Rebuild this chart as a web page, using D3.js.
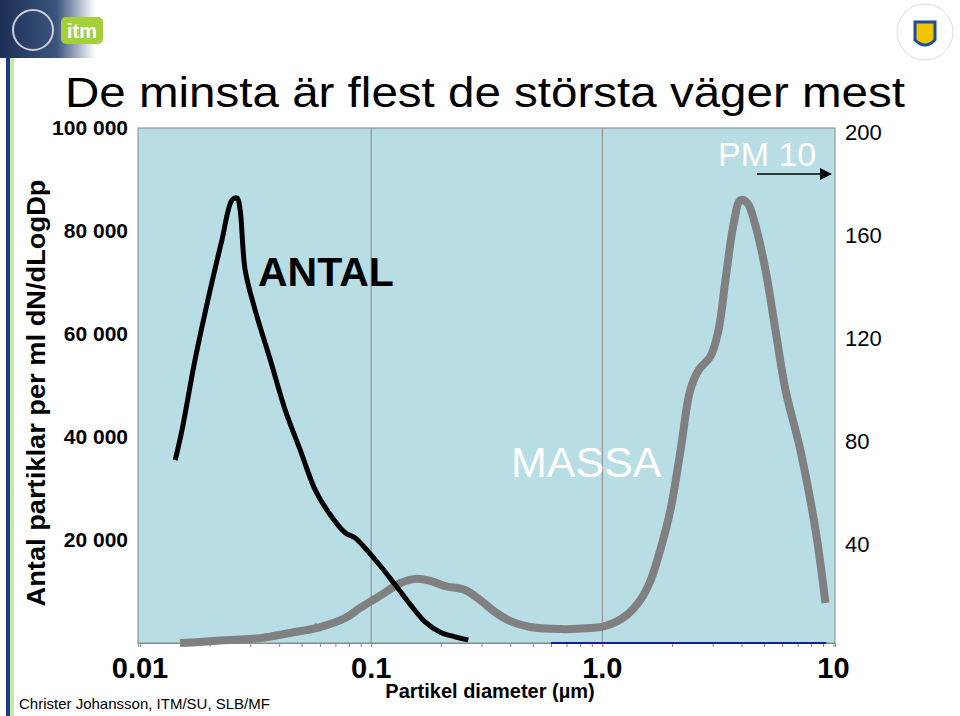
<!DOCTYPE html>
<html><head><meta charset="utf-8">
<script src="https://cdn.jsdelivr.net/npm/d3@7"></script>
<style>body{margin:0;background:#fff}text{font-family:"Liberation Sans",Arial,sans-serif}</style>
</head><body><svg id="c" width="960" height="716"></svg>
<script>
// antal (number) curve: diameter um, particles per ml
var antalD = [0.0142,0.0152,0.0173,0.0201,0.0226,0.0250,0.0263,0.0271,0.0285,0.0315,0.0366,0.0425,0.0493,0.0573,0.0665,0.0772,0.0853,0.0942,0.109,0.127,0.148,0.171,0.199,0.231,0.263];
var antalV = [35500,41400,55000,68500,78200,86000,86400,84100,72400,64600,55000,45200,37500,29700,24900,21400,20400,18400,15100,11300,7400,4100,2100,1200,600];
// massa curve: diameter um, mass (right axis)
var massaD = [0.0149,0.0182,0.0245,0.0331,0.0446,0.0601,0.0772,0.0896,0.109,0.134,0.155,0.180,0.209,0.255,0.296,0.344,0.400,0.488,0.658,0.887,1.03,1.26,1.46,1.62,1.78,1.97,2.18,2.40,2.61,2.94,3.18,3.41,3.69,3.96,4.24,4.59,5.08,5.61,6.20,7.19,8.36,9.23];
var massaV = [0,0.4,1.2,1.9,3.9,6.2,9.7,13.6,18.3,23.3,24.9,24.1,22.1,20.6,16.7,12.0,8.5,6.2,5.4,5.8,6.6,10.5,16.7,24.5,36.1,51.6,74.9,98.2,106,111.4,121.5,141,162.3,172,170.9,162.3,144.8,121.5,98.2,74.9,43.9,15.5];
var leftTicks = [20000,40000,60000,80000,100000];
var rightTicks = [40,80,120,160,200];
var xTicks = [0.01,0.1,1,10];
var xTickLabels = ["0.01","0.1","1.0","10"];

var svg = d3.select("#c");
var L=138,R=835,T=128,B=643;
var x = d3.scaleLog().domain([0.0098,10.15]).range([L,R]);
var yL = d3.scaleLinear().domain([0,100000]).range([B,T]);
var yR = d3.scaleLinear().domain([0,200]).range([B,T]);

// header decorations
var g0 = svg.append("defs").append("linearGradient").attr("id","hg");
g0.append("stop").attr("offset","0").attr("stop-color","#1d2f55");
g0.append("stop").attr("offset","0.6").attr("stop-color","#3c557e");
g0.append("stop").attr("offset","1").attr("stop-color","#fff");
svg.append("rect").attr("x",0).attr("y",0).attr("width",95).attr("height",58).attr("fill","url(#hg)");
svg.append("circle").attr("cx",33).attr("cy",30).attr("r",20).attr("fill","none").attr("stroke","#ccd").attr("stroke-width",2);
svg.append("rect").attr("x",61).attr("y",17).attr("width",42).attr("height",27).attr("rx",5).attr("fill","#a6d03a");
svg.append("text").attr("x",82).attr("y",38).attr("text-anchor","middle").attr("fill","#fff").attr("font-weight","bold").attr("font-size",20).text("itm");
svg.append("rect").attr("x",6).attr("y",58).attr("width",4).attr("height",658).attr("fill","#1e3a8a");
svg.append("rect").attr("x",10).attr("y",58).attr("width",4).attr("height",658).attr("fill","#c6ea9a");
svg.append("circle").attr("cx",925).attr("cy",32).attr("r",28).attr("fill","none").attr("stroke","#ddd");
svg.append("path").attr("d","M915,22 h20 v18 q-10,10 -20,0 z").attr("fill","#f2c400").attr("stroke","#1b4f9c").attr("stroke-width",3);

svg.append("text").attr("x",65).attr("y",107).attr("font-size",42).attr("textLength",840).attr("lengthAdjust","spacingAndGlyphs")
  .text("De minsta är flest de största väger mest");

// plot
svg.append("rect").attr("x",L).attr("y",T).attr("width",R-L).attr("height",B-T).attr("fill","#b8dde4").attr("stroke","#888");
svg.selectAll("line.grid").data([0.1,1]).enter().append("line").attr("class","grid")
  .attr("x1",d=>x(d)).attr("x2",d=>x(d)).attr("y1",T).attr("y2",B).attr("stroke","#888");

var minor = [];
[0.01,0.1,1].forEach(b=>d3.range(1,10).forEach(m=>minor.push(m*b)));
minor.push(10);
var xa = svg.append("g").attr("transform","translate(0,"+B+")")
  .call(d3.axisBottom(x).tickValues(minor).tickSize(4).tickFormat(""));
xa.selectAll("path,line").attr("stroke","#888");
svg.selectAll("text.xl").data(xTicks).enter().append("text").attr("class","xl")
  .attr("x",d=>x(d)).attr("y",678).attr("text-anchor","middle").attr("font-size",29).attr("font-weight","bold")
  .text((d,i)=>xTickLabels[i]);

svg.selectAll("text.yl").data(leftTicks).enter().append("text").attr("class","yl")
  .attr("x",128).attr("y",d=>yL(d)+7).attr("text-anchor","end").attr("font-size",21).attr("font-weight","bold")
  .text(d=>d3.format(",")(d).replace(/,/g," "));
svg.selectAll("text.yr").data(rightTicks).enter().append("text").attr("class","yr")
  .attr("x",845).attr("y",d=>yR(d)+12).attr("font-size",22)
  .text(d=>d);

svg.append("text").attr("transform","translate(45,393) rotate(-90)").attr("text-anchor","middle")
  .attr("font-size",26).attr("font-weight","bold").attr("textLength",427).attr("lengthAdjust","spacingAndGlyphs")
  .text("Antal partiklar per ml dN/dLogDp");
svg.append("text").attr("x",490).attr("y",698).attr("text-anchor","middle").attr("font-size",20).attr("font-weight","bold").text("Partikel diameter (µm)");
svg.append("text").attr("x",19).attr("y",709).attr("font-size",15).text("Christer Johansson, ITM/SU, SLB/MF");

// minor marks
svg.append("line").attr("x1",x(0.6)).attr("x2",x(9.3)).attr("y1",B).attr("y2",B).attr("stroke","#1a1aa0").attr("stroke-width",2);
svg.append("line").attr("x1",x(0.057)).attr("x2",x(0.062)).attr("y1",yR(7.4)).attr("y2",yR(5.8)).attr("stroke","#e040e0").attr("stroke-width",2);

var line = d3.line().curve(d3.curveCatmullRom);
svg.append("path").attr("d",line(massaD.map((d,i)=>[x(d),yR(massaV[i])])))
  .attr("fill","none").attr("stroke","#808080").attr("stroke-width",8).attr("stroke-linejoin","round");
svg.append("path").attr("d",line(antalD.map((d,i)=>[x(d),yL(antalV[i])])))
  .attr("fill","none").attr("stroke","#000").attr("stroke-width",5).attr("stroke-linejoin","round");

svg.append("text").attr("x",258).attr("y",286).attr("font-size",41).attr("font-weight","bold").text("ANTAL");
svg.append("text").attr("x",511).attr("y",477).attr("font-size",43).attr("fill","#fff").text("MASSA");
svg.append("text").attr("x",718).attr("y",166).attr("font-size",34).attr("fill","#fff").text("PM 10");
svg.append("line").attr("x1",757).attr("x2",822).attr("y1",174).attr("y2",174).attr("stroke","#000").attr("stroke-width",1.5);
svg.append("path").attr("d","M832,174 L820,168 L820,180 Z").attr("fill","#000");
</script></body></html>
